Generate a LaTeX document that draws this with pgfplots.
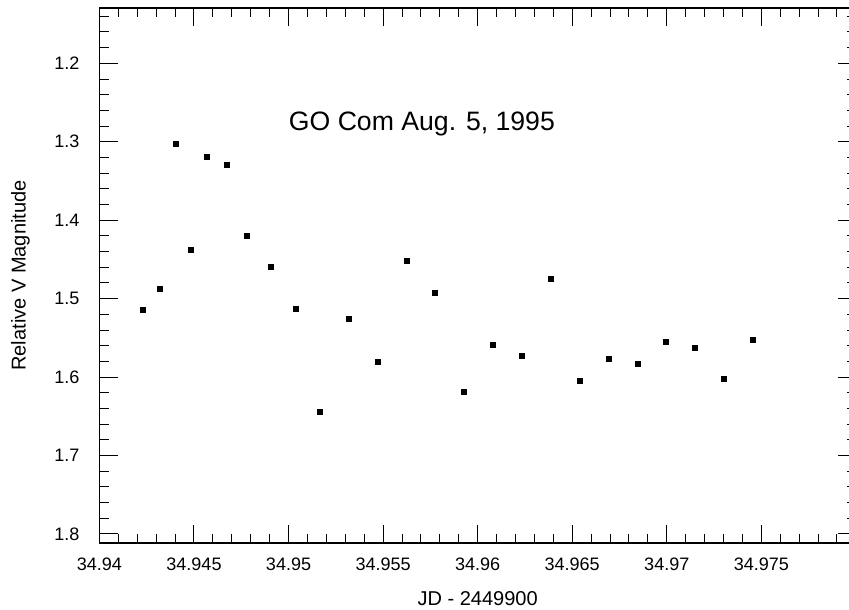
\documentclass[border=0pt]{standalone}
\usepackage{fontspec}
\setmainfont{Liberation Sans}
\usepackage{pgfplots}
\pgfplotsset{compat=1.18}

\begin{document}
\begin{tikzpicture}
\begin{axis}[
    scale only axis,
    width=377.8pt, height=267.15pt,
    xmin=34.94, xmax=34.98,
    ymin=1.1294, ymax=1.8115,
    y dir=reverse,
    axis line style={line width=0.6pt},
    xtick={34.94,34.945,34.95,34.955,34.96,34.965,34.97,34.975},
    xticklabels={34.94,34.945,34.95,34.955,34.96,34.965,34.97,34.975},
    minor xtick={34.941,34.942,34.943,34.944,34.946,34.947,34.948,34.949,
                 34.951,34.952,34.953,34.954,34.956,34.957,34.958,34.959,
                 34.961,34.962,34.963,34.964,34.966,34.967,34.968,34.969,
                 34.971,34.972,34.973,34.974,34.976,34.977,34.978,34.979},
    ytick={1.2,1.3,1.4,1.5,1.6,1.7,1.8},
    yticklabels={1.2,1.3,1.4,1.5,1.6,1.7,1.8},
    minor ytick={1.14,1.16,1.18,1.22,1.24,1.26,1.28,1.32,1.34,1.36,1.38,
                 1.42,1.44,1.46,1.48,1.52,1.54,1.56,1.58,1.62,1.64,1.66,1.68,
                 1.72,1.74,1.76,1.78},
    tick align=inside,
    xtick pos=both, ytick pos=both,
    xticklabel pos=lower, yticklabel pos=left,
    major tick length=9.15pt,
    minor tick length=4.7pt,
    every tick/.style={black, line width=0.5pt},
    tick label style={font=\fontsize{9}{11}\selectfont},
    xticklabel style={yshift=-4pt},
    yticklabel style={xshift=-6.5pt},
    xlabel={JD - 2449900},
    ylabel={Relative V Magnitude},
    label style={font=\fontsize{11}{13}\selectfont},
    every axis x label/.style={at={(axis description cs:0.5,-0.1174)}, anchor=base},
    every axis y label/.style={at={(axis description cs:-0.1043,0.5)}, anchor=center, rotate=90},
]
\addplot[only marks, mark=square*, mark size=1.25pt,
         mark options={fill=black, draw=none}] coordinates {
    (34.94228,1.5142) (34.94318,1.4874) (34.94402,1.3022) (34.94482,1.4375)
    (34.94566,1.3188) (34.94672,1.3290) (34.94778,1.4197) (34.94905,1.4593)
    (34.95038,1.5129) (34.95165,1.6444) (34.95318,1.5257) (34.95472,1.5806)
    (34.95625,1.4516) (34.95773,1.4925) (34.95927,1.6189) (34.96080,1.5589)
    (34.96234,1.5729) (34.96388,1.4746) (34.96541,1.6049) (34.96695,1.5768)
    (34.96848,1.5831) (34.96996,1.5550) (34.97150,1.5627) (34.97303,1.6023)
    (34.97457,1.5525)
};
\node[anchor=base west, inner sep=0pt, font=\fontsize{13.3}{16}\selectfont]
    at (axis cs:34.95,1.2852) {GO Com Aug. 5, 1995};
\end{axis}
\pgfresetboundingbox
\path[use as bounding box] (-49.65pt,-33.35pt) rectangle (374.35pt,271.15pt);
\end{tikzpicture}
\end{document}
